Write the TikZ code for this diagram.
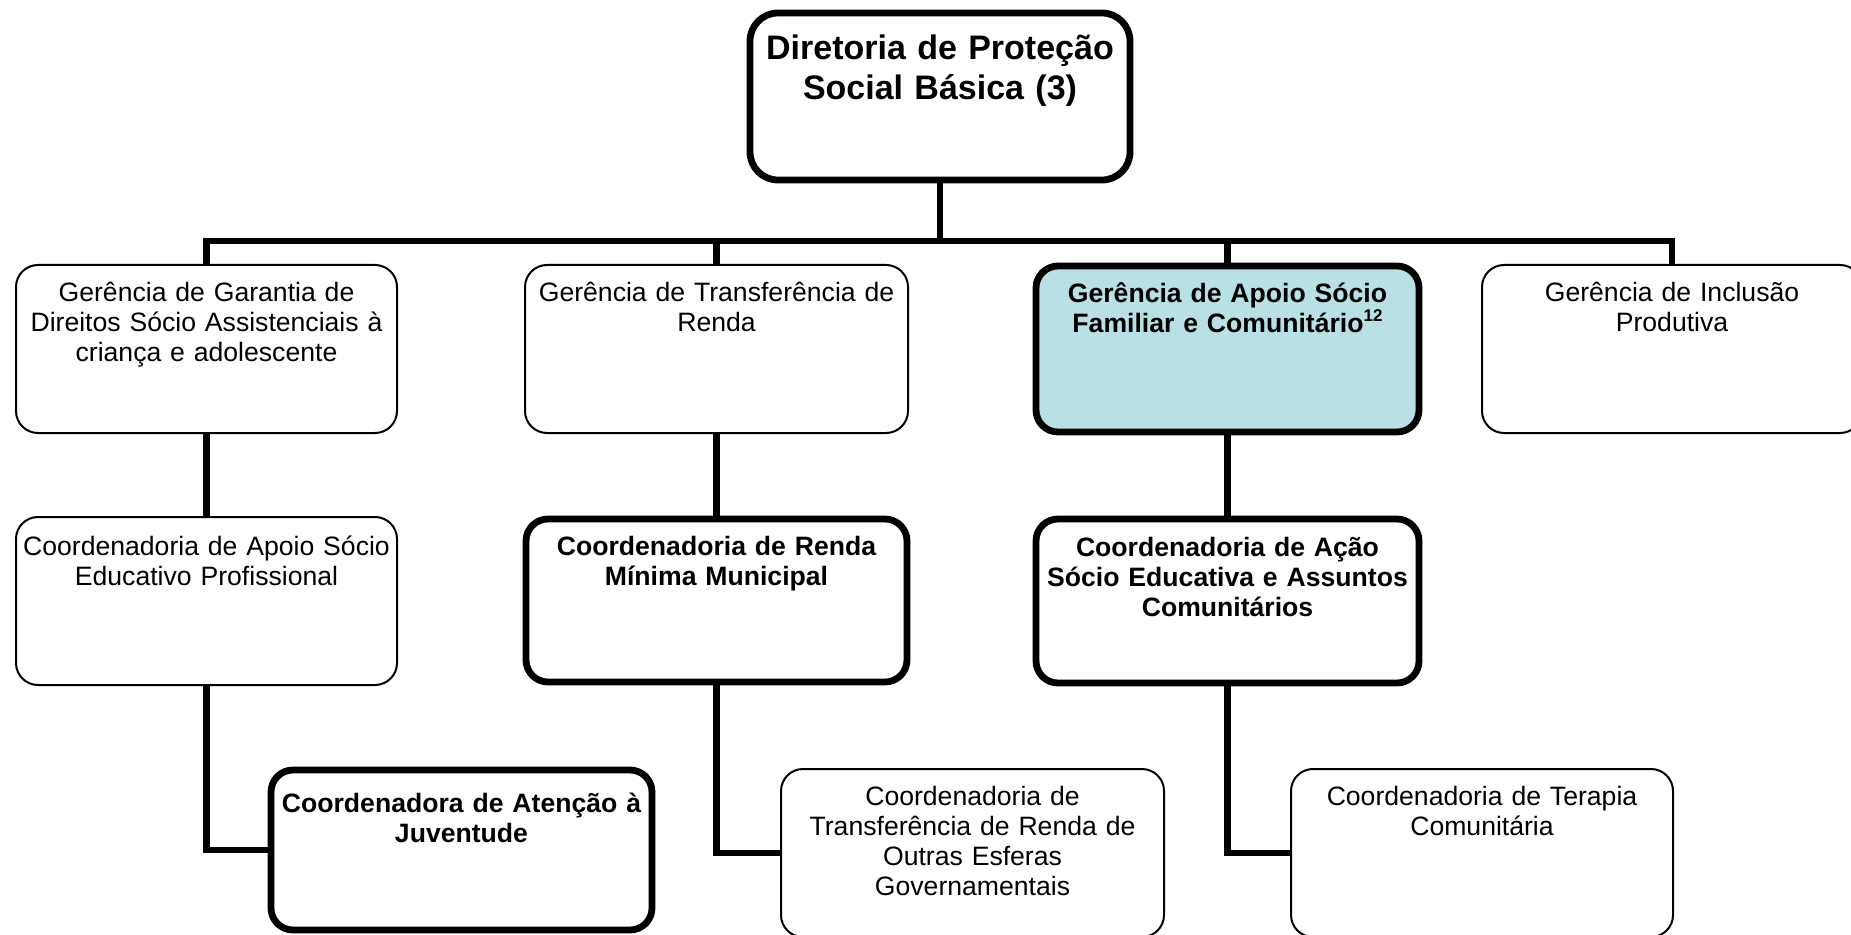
\documentclass[tikz,border=0pt]{standalone}
\usepackage{fontspec}
\setmainfont{Liberation Sans}
\definecolor{teal1}{RGB}{185,224,228}
\newcommand{\fsn}{\fontsize{13.3}{15}\selectfont}
\newcommand{\fsb}{\fontsize{13.3}{15}\selectfont\bfseries}
\newcommand{\fst}{\fontsize{17}{20}\selectfont\bfseries}
\begin{document}
\begin{tikzpicture}[x=0.5pt,y=-0.5pt,
  orgbox/.style={draw, rounded corners=11pt, line width=1pt, inner xsep=2pt, inner ysep=0pt,
    align=center, text width=184pt, font=\fsn, text height=18.5pt},
  thickbox/.style={orgbox, line width=3.4pt, font=\fsb},
  conn/.style={line width=3.1pt}]
\useasboundingbox (0,0) rectangle (1851,935);
% top
\node[thickbox, font=\fst, rounded corners=14pt, minimum width=190pt, text width=180pt, text height=23.5pt, text depth=60pt] (T) at (940,96.5) {Diretoria de Proteção\\Social Básica (3)};
% level 1
\node[orgbox, minimum width=190.5pt, text depth=65.5pt] (A) at (206.5,349) {Gerência de Garantia de\\Direitos Sócio Assistenciais à\\criança e adolescente};
\node[orgbox, minimum width=191.5pt, text depth=65.5pt] (B) at (716.5,349) {Gerência de Transferência de\\Renda};
\node[thickbox, fill=teal1, minimum width=191.5pt, text height=18.5pt, text depth=64.5pt] (C) at (1227.5,349) {Gerência de Apoio Sócio\\Familiar e Comunitário\raisebox{0.85ex}{\fontsize{8.5}{9}\selectfont\bfseries 12}};
\node[orgbox, minimum width=190pt, text depth=65.5pt] (D) at (1672,349) {Gerência de Inclusão\\Produtiva};
% level 2
\node[orgbox, minimum width=190.5pt, text height=19pt, text depth=65pt] (E) at (206.5,601) {Coordenadoria de Apoio Sócio\\Educativo Profissional};
\node[thickbox, minimum width=190.5pt, text height=18pt, text depth=63.5pt] (F) at (716.5,600.5) {Coordenadoria de Renda\\Mínima Municipal};
\node[thickbox, minimum width=191.5pt, text height=18.5pt, text depth=63.5pt] (G) at (1227.5,601) {Coordenadoria de Ação\\Sócio Educativa e Assuntos\\Comunitários};
% level 3
\node[thickbox, minimum width=190.5pt, text height=21pt, text depth=59pt] (H) at (461.5,850) {Coordenadora de Atenção à\\Juventude};
\node[orgbox, minimum width=191.5pt, text height=18pt, text depth=66pt] (I) at (972.5,853) {Coordenadoria de\\Transferência de Renda de\\Outras Esferas\\Governamentais};
\node[orgbox, minimum width=191pt, text height=18pt, text depth=66pt] (J) at (1482,853) {Coordenadoria de Terapia\\Comunitária};
% connectors
\coordinate (bus) at (940,241);
\draw[conn] (T.south) -- (T.south |- bus);
\draw[conn] (A.north) |- (bus -| D.north) -- (D.north);
\draw[conn] (B.north) -- (B.north |- bus);
\draw[conn] (C.north) -- (C.north |- bus);
\draw[conn] (A.south) -- (E.north);
\draw[conn] (B.south) -- (F.north);
\draw[conn] (C.south) -- (G.north);
\draw[conn] (E.south) |- (H.west);
\draw[conn] (F.south) |- (I.west);
\draw[conn] (G.south) |- (J.west);
\end{tikzpicture}
\end{document}
